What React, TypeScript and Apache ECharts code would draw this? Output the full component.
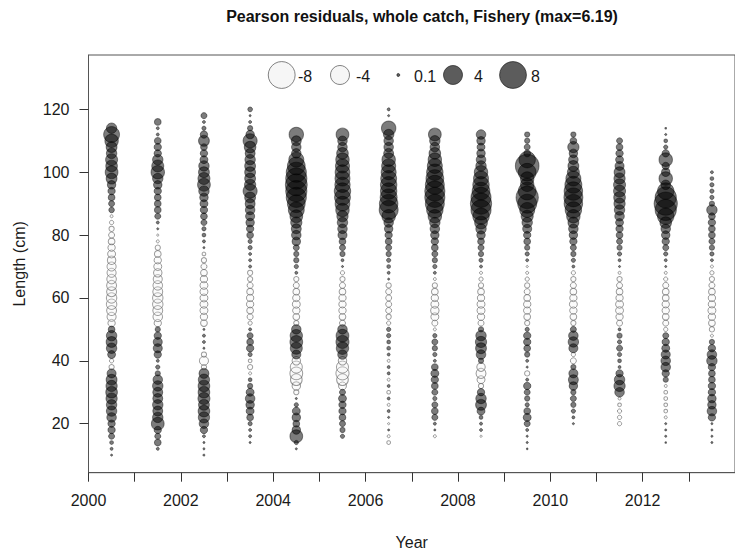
import React, { useEffect, useRef } from "react";
import * as echarts from "echarts";

// Length bins (cm), shared by every year
const lengthBins = [
  10, 12, 14, 16, 18, 20, 22, 24, 26, 28,
  30, 32, 34, 36, 38, 40, 42, 44, 46, 48,
  50, 52, 54, 56, 58, 60, 62, 64, 66, 68,
  70, 72, 74, 76, 78, 80, 82, 84, 86, 88,
  90, 92, 94, 96, 98, 100, 102, 104, 106, 108,
  110, 112, 114, 116, 118, 120,
];

const years = [2000, 2001, 2002, 2003, 2004, 2005, 2006, 2007, 2008, 2009, 2010, 2011, 2012, 2013];

// Pearson residuals per year, one value per length bin (null = no observation)
const r2000 = [
  0.05, 0.1, 0.15, 0.4, 0.6, 0.6, 1.0, 1.2, 1.2, 1.4,
  1.5, 1.4, 1.3, 0.9, -0.3, -0.2, 0.7, 1.2, 1.3, 1.2,
  0.5, -0.6, -0.9, -1.1, -1.2, -1.2, -1.1, -1.1, -1.0, -0.9,
  -0.9, -0.8, -0.7, -0.6, -0.5, -0.4, -0.3, -0.2, -0.1, 0.35,
  0.4, 0.5, 0.6, 0.8, 1.3, 1.8, 1.5, 1.6, 1.2, 1.3,
  2.0, 2.8, 1.2, null, null, null,
];
const r2001 = [
  null, 0.1, 0.5, 0.4, 0.6, 1.8, 1.2, 1.1, 1.2, 1.1,
  1.1, 1.2, 1.0, 0.3, 0.2, 0.1, 0.6, 0.9, 0.9, 0.6,
  0.3, -0.6, -1.0, -1.1, -1.2, -1.2, -1.1, -1.0, -0.9, -0.8,
  -0.7, -0.6, -0.5, -0.3, -0.1, -0.05, 0.05, 0.1, 0.4, 0.5,
  0.5, 0.5, 0.6, 0.8, 1.2, 2.0, 1.6, 1.2, 0.6, 0.6,
  0.5, 0.1, 0.1, 0.5, null, null,
];
const r2002 = [
  0.05, 0.05, 0.05, 0.1, 0.6, 1.0, 1.4, 1.5, 1.3, 1.6,
  1.5, 1.5, 1.4, 1.1, -0.3, -0.9, -0.3, 0.05, 0.1, 0.1,
  0.05, -0.5, -0.6, -0.7, -0.7, -0.7, -0.7, -0.7, -0.6, -0.5,
  -0.4, -0.3, -0.15, 0.05, 0.1, 0.15, 0.2, 0.4, 0.5, 0.6,
  0.7, 0.8, 1.2, 1.8, 1.6, 1.3, 1.2, 0.7, 0.6, 0.5,
  1.3, 0.6, 0.2, 0.1, 0.4, null,
];
const r2003 = [
  null, null, 0.05, 0.1, 0.1, 0.2, 0.5, 0.7, 0.8, 1.0,
  0.7, 0.3, 0.15, -0.1, -0.3, -0.15, 0.2, 0.6, 0.5, 0.4,
  0.1, -0.2, -0.4, -0.5, -0.6, -0.6, -0.5, -0.4, -0.3, -0.3,
  0.1, 0.1, 0.1, 0.2, 0.2, 0.5, 0.6, 0.8, 0.9, 1.0,
  1.1, 1.3, 2.2, 1.4, 1.3, 1.3, 1.3, 1.2, 1.1, 1.5,
  2.2, 0.8, 0.3, 0.1, 0.05, 0.25,
];
const r2004 = [
  null, 0.05, 0.2, 1.8, 0.8, 0.5, 0.8, 0.7, 0.2, 0.05,
  -0.3, -0.8, -1.5, -1.8, -1.6, -0.8, 0.9, 1.6, 1.8, 1.7,
  1.0, -0.3, -0.5, -0.6, -0.7, -0.6, -0.5, -0.4, -0.3, 0.1,
  0.2, 0.3, 0.3, 0.4, 0.8, 1.0, 1.1, 1.4, 1.8, 2.8,
  3.5, 4.5, 5.0, 5.3, 5.0, 4.5, 3.5, 2.5, 1.0, 1.0,
  1.1, 2.3, null, null, null, null,
];
const r2005 = [
  null, null, null, 0.2, 0.3, 0.4, 0.5, 0.6, 0.6, 0.7,
  0.4, -0.7, -1.5, -1.9, -1.6, -0.8, 1.0, 1.7, 1.9, 1.8,
  1.0, -0.4, -0.5, -0.6, -0.6, -0.6, -0.5, -0.4, -0.3, -0.2,
  0.05, 0.1, 0.3, 0.4, 0.5, 0.9, 1.0, 1.2, 1.4, 2.0,
  2.4, 2.8, 3.0, 2.6, 2.5, 2.4, 2.2, 2.0, 1.5, 1.0,
  1.0, 1.8, null, null, null, null,
];
const r2006 = [
  null, null, -0.15, -0.1, 0.05, -0.05, 0.05, 0.1, -0.1, 0.1,
  -0.15, 0.1, -0.1, 0.1, 0.1, -0.1, 0.1, 0.15, 0.15, 0.2,
  0.2, -0.2, -0.3, -0.4, -0.4, -0.4, -0.4, -0.3, 0.05, 0.1,
  0.15, 0.2, 0.3, 0.4, 0.5, 0.6, 0.8, 1.0, 2.0, 4.0,
  3.8, 3.2, 3.0, 3.0, 2.8, 2.5, 2.2, 2.0, 1.1, 1.0,
  1.0, 1.2, 2.3, null, 0.05, 0.1,
];
const r2007 = [
  null, null, null, -0.1, 0.05, 0.1, 0.4, 0.5, 0.4, 0.2,
  0.4, 0.5, 0.6, 0.7, 0.5, 0.1, 0.2, 0.3, 0.4, 0.2,
  -0.1, -0.4, -0.7, -0.8, -0.7, -0.6, -0.5, -0.3, -0.1, 0.1,
  0.2, 0.3, 0.4, 0.5, 0.6, 0.8, 1.0, 1.2, 2.0, 3.0,
  4.0, 4.5, 4.5, 4.0, 3.5, 3.0, 2.5, 2.0, 1.5, 1.0,
  1.2, 1.8, null, null, null, null,
];
const r2008 = [
  null, null, null, -0.05, 0.1, 0.1, 0.15, 0.7, 1.3, 1.2,
  0.6, -0.3, -0.7, -1.1, -0.8, 0.3, 1.0, 1.3, 1.4, 1.2,
  0.3, -0.4, -0.6, -0.7, -0.7, -0.6, -0.5, -0.3, -0.2, -0.1,
  0.1, 0.2, 0.3, 0.4, 0.5, 0.8, 1.2, 1.8, 3.0, 4.5,
  5.0, 4.5, 3.5, 3.0, 2.5, 2.0, 1.2, 1.0, 0.8, 0.7,
  0.8, 1.0, null, null, null, null,
];
const r2009 = [
  null, 0.03, 0.05, 0.05, 0.1, 0.4, 0.7, 0.5, 0.2, 0.3,
  0.4, 0.6, 0.1, -0.3, 0.05, 0.1, 0.3, 0.5, 0.6, 0.6,
  0.2, -0.3, -0.5, -0.6, -0.6, -0.5, -0.4, -0.3, -0.2, -0.1,
  -0.05, 0.1, 0.2, 0.3, 0.5, 0.6, 0.9, 1.2, 1.6, 2.5,
  4.0, 5.5, 3.5, 2.0, 2.0, 3.5, 6.19, 3.0, 0.5, 0.4,
  0.3, 0.3, null, null, null, null,
];
const r2010 = [
  null, null, null, null, null, 0.05, 0.1, 0.2, 0.3, 0.4,
  0.3, 0.8, 1.1, 0.9, 0.3, -0.4, -0.2, 0.9, 1.2, 1.0,
  0.4, -0.3, -0.5, -0.6, -0.7, -0.6, -0.5, -0.4, -0.3, -0.2,
  0.1, 0.2, 0.3, 0.4, 0.6, 0.8, 1.0, 1.3, 2.0, 3.0,
  3.8, 4.0, 3.8, 3.2, 2.5, 1.6, 1.3, 1.0, 0.8, 1.4,
  0.5, 0.3, null, null, null, null,
];
const r2011 = [
  null, null, null, null, null, -0.2, -0.2, -0.2, -0.15, -0.1,
  1.0, 1.4, 1.2, 0.6, 0.1, 0.15, 0.2, 0.4, 0.2, 0.3,
  0.1, -0.4, -0.6, -0.7, -0.7, -0.6, -0.5, -0.4, -0.3, -0.1,
  0.05, 0.1, 0.2, 0.3, 0.4, 0.5, 0.6, 0.7, 1.0, 1.2,
  1.4, 1.5, 1.6, 1.6, 1.4, 1.3, 0.9, 0.7, 0.6, 0.5,
  0.4, null, null, null, null, null,
];
const r2012 = [
  null, null, 0.03, 0.05, 0.05, 0.05, -0.1, -0.15, -0.15, -0.15,
  -0.15, -0.1, 0.3, 0.6, 1.0, 1.0, 0.9, 0.7, 0.6, 0.4,
  -0.2, -0.4, -0.5, -0.6, -0.6, -0.5, -0.5, -0.4, -0.2, -0.1,
  0.05, 0.1, 0.2, 0.4, 0.6, 0.8, 1.0, 1.5, 3.0, 5.0,
  6.0, 5.0, 3.0, 1.0, 2.0, 0.8, 0.6, 2.0, 0.6, 0.2,
  0.15, 0.05, 0.03, null, null, null,
];
const r2013 = [
  null, null, 0.05, 0.05, 0.05, 0.05, 0.6, 1.0, 0.8, 0.8,
  0.6, 0.6, 0.5, 0.5, 0.6, 1.2, 1.0, 0.6, 0.3, -0.1,
  -0.3, -0.5, -0.6, -0.7, -0.6, -0.6, -0.5, -0.4, -0.3, -0.2,
  -0.1, 0.1, 0.2, 0.3, 0.4, 0.5, 0.5, 0.6, 0.5, 1.2,
  0.3, 0.2, 0.2, 0.2, 0.15, 0.1, null, null, null, null,
  null, null, null, null, null, null,
];

const residualsByYear = [
  r2000, r2001, r2002, r2003, r2004, r2005, r2006,
  r2007, r2008, r2009, r2010, r2011, r2012, r2013,
];

const legendValues = [-8, -4, 0.1, 4, 8];
const legendLabels = ["-8", "-4", "0.1", "4", "8"];
const xTickValues = [2000, 2001, 2002, 2003, 2004, 2005, 2006, 2007, 2008, 2009, 2010, 2011, 2012, 2013, 2014];
const xLabelValues = [2000, 2002, 2004, 2006, 2008, 2010, 2012];
const yTickValues = [20, 40, 60, 80, 100, 120];

const TITLE = "Pearson residuals, whole catch, Fishery (max=6.19)";
const FONT = '"Liberation Sans", Arial, sans-serif';

const SIZE_K = 9.5;
const bubbleSize = (v: number) => SIZE_K * Math.sqrt(Math.abs(v));

const POS_FILL = "rgba(0,0,0,0.64)";
const POS_BORDER = "rgba(0,0,0,0.55)";
const NEG_FILL = "rgba(240,240,240,0.35)";
const NEG_BORDER = "rgba(90,90,90,0.75)";

export default function App() {
  const ref = useRef<HTMLDivElement>(null);

  useEffect(() => {
    if (!ref.current) return;
    const chart = echarts.init(ref.current, undefined, { renderer: "svg" });

    const pos: number[][] = [];
    const neg: number[][] = [];
    residualsByYear.forEach((arr, yi) => {
      arr.forEach((v, bi) => {
        if (v === null || v === undefined) return;
        const pt = [years[yi] + 0.5, lengthBins[bi], v as number];
        if ((v as number) >= 0) pos.push(pt);
        else neg.push(pt);
      });
    });

    // legend drawn as graphics (layout decoration)
    const legendCx = [281.7, 340, 398.3, 453, 513];
    const legendTx = [298, 356, 414, 474, 531];
    const legendGraphics: any[] = [];
    legendValues.forEach((v, i) => {
      const r = bubbleSize(v) / 2;
      legendGraphics.push({
        type: "circle",
        shape: { cx: legendCx[i], cy: 75, r },
        style: {
          fill: v >= 0 ? POS_FILL : "rgba(240,240,240,0.6)",
          stroke: v >= 0 ? POS_BORDER : NEG_BORDER,
          lineWidth: 1,
        },
        z: 10,
      });
      legendGraphics.push({
        type: "text",
        x: legendTx[i],
        y: 76,
        style: {
          text: legendLabels[i],
          font: `16px ${FONT}`,
          fill: "#1a1a1a",
          textAlign: "left",
          textVerticalAlign: "middle",
        },
        z: 10,
      });
    });

    const axisText = { fontSize: 16, color: "#1a1a1a", fontFamily: FONT };

    chart.setOption({
      animation: false,
      backgroundColor: "#ffffff",
      graphic: [
        {
          type: "text",
          x: 422,
          y: 16,
          style: {
            text: TITLE,
            font: `bold 16px ${FONT}`,
            fill: "#111",
            textAlign: "center",
            textVerticalAlign: "middle",
          },
        },
        ...legendGraphics,
      ],
      grid: {
        left: 88.5,
        top: 55,
        width: 655.5,
        height: 417.7,
        show: true,
        borderColor: "#555",
        borderWidth: 1,
        backgroundColor: "transparent",
      },
      xAxis: {
        type: "value",
        min: 2000,
        max: 2014,
        splitLine: { show: false },
        axisLine: { show: true, lineStyle: { color: "#555", width: 1 } },
        axisTick: {
          show: true,
          length: 9,
          inside: false,
          customValues: xTickValues,
          lineStyle: { color: "#333", width: 1 },
        },
        axisLabel: {
          customValues: xLabelValues,
          margin: 20,
          ...axisText,
          formatter: (v: number) => String(v),
        },
        name: "Year",
        nameLocation: "middle",
        nameGap: 62,
        nameTextStyle: axisText,
      },
      yAxis: {
        type: "value",
        min: 4.4,
        max: 137.3,
        splitLine: { show: false },
        axisLine: { show: true, lineStyle: { color: "#555", width: 1 } },
        axisTick: {
          show: true,
          length: 9,
          inside: false,
          customValues: yTickValues,
          lineStyle: { color: "#333", width: 1 },
        },
        axisLabel: {
          customValues: yTickValues,
          margin: 19,
          ...axisText,
          formatter: (v: number) => String(v),
        },
        name: "Length (cm)",
        nameLocation: "middle",
        nameRotate: 90,
        nameGap: 61,
        nameTextStyle: axisText,
      },
      series: [
        {
          type: "scatter",
          data: neg,
          symbol: "circle",
          symbolSize: (val: number[]) => bubbleSize(val[2]),
          itemStyle: { color: NEG_FILL, borderColor: NEG_BORDER, borderWidth: 1 },
          emphasis: { disabled: true },
          z: 2,
        },
        {
          type: "scatter",
          data: pos,
          symbol: "circle",
          symbolSize: (val: number[]) => bubbleSize(val[2]),
          itemStyle: { color: POS_FILL, borderColor: POS_BORDER, borderWidth: 1 },
          emphasis: { disabled: true },
          z: 3,
        },
      ],
    });

    return () => chart.dispose();
  }, []);

  return (
    <div
      ref={ref}
      style={{ position: "fixed", left: 0, top: 0, width: 735, height: 556, background: "#fff" }}
    />
  );
}
